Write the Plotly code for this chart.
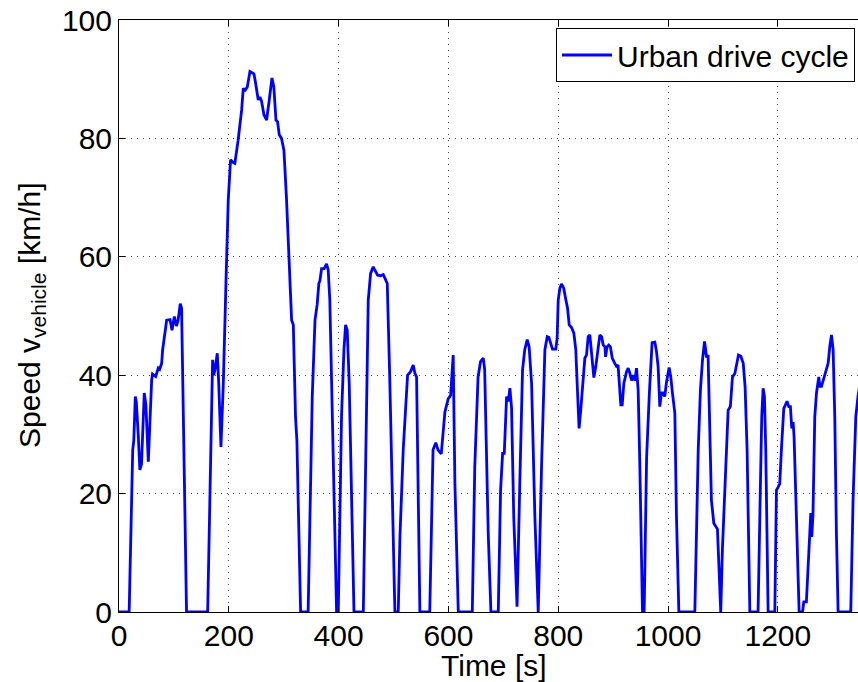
import plotly.graph_objects as go

time_s = [0, 18.5, 25, 27, 29.7, 31.5, 35, 38, 41, 46, 49, 53.4, 59.5, 61, 66.8, 71.6, 74, 77.7, 79.5,
          83.8, 86.8, 93, 96.5, 100.8, 104.6, 107.6, 111.6, 114, 123, 161.5, 170.5, 172.5, 175, 179,
          181.5, 185.7, 190, 194.8, 199, 203.2, 207, 211, 217, 223.4, 226.4, 229, 233.7, 238.5, 245.8,
          248.7, 253.6, 256.6, 259.6, 264, 268.9, 273.7, 278.6, 282, 285.9, 288.9, 291.9, 296, 300.4,
          305, 311.4, 314.4, 317.5, 321.5, 324, 330.8, 344.5, 352, 357, 361, 364, 366, 369, 373.7, 378,
          381, 384, 390, 396.3, 399.4, 405.3, 409.7, 412.7, 415.7, 419.3, 428, 445, 454, 458.3, 463,
          466, 471, 476.5, 481.3, 484.3, 488.6, 493.4, 502.5, 508.6, 511.7, 517.7, 525.6, 531, 535.9,
          539, 542, 548, 566, 572, 577, 581, 587, 593.6, 599.6, 604, 608.7, 611.8, 618, 643.5, 648,
          654, 658.5, 663.4, 666, 672.5, 677.4, 690.8, 695, 698.7, 701.7, 706, 709, 712, 715, 719, 725,
          730, 735, 739, 743.5, 747, 751.5, 757.5, 763.6, 769.6, 775.7, 780, 783, 785.6, 789.6, 795.6,
          798, 800, 803, 806, 810, 814, 817, 820, 824, 828.5, 832, 834.5, 838, 841, 845.5, 848.5,
          851.5, 854.6, 857.6, 860.6, 864.9, 868.5, 872.8, 875.8, 879, 882, 885, 886.2, 889, 892, 895,
          898.4, 903, 906, 909, 912.2, 914, 916.5, 919.5, 924.4, 927.4, 930.5, 933.5, 936.6, 939.6,
          942.6, 945.6, 948.7, 953.5, 956.5, 961, 966, 971, 976, 979, 982, 985, 988, 991, 994, 997.3,
          1002, 1005, 1008, 1012.4, 1015.4, 1019.7, 1048.8, 1055, 1059, 1062.8, 1066.5, 1070, 1073,
          1076, 1079, 1083.4, 1086.4, 1090, 1092.5, 1096, 1099, 1103.4, 1107.6, 1109.5, 1113.5, 1117.4,
          1121.7, 1124.8, 1128.3, 1132.6, 1137, 1140.4, 1144, 1149, 1164, 1168.3, 1170.7, 1173.2,
          1175.6, 1178, 1182.3, 1194.5, 1197.5, 1200.5, 1203.5, 1206.5, 1210.8, 1213.8, 1216.8, 1219.9,
          1222.9, 1225.4, 1227.8, 1229.6, 1234, 1238.8, 1244.9, 1247.3, 1252, 1255, 1258, 1260, 1261.8,
          1264, 1267.3, 1270.4, 1274.6, 1276.5, 1279.5, 1282.5, 1285.6, 1288.6, 1291.6, 1294.6, 1297.7,
          1300.7, 1303.7, 1306.7, 1309.8, 1332.8, 1337, 1342, 1346, 1352]

speed_kmh = [0, 0, 27.4, 29, 36.4, 35.5, 30, 24, 25, 37, 35, 25.4, 39.2, 40.2, 39.8, 41.2, 41, 42, 44.3,
             47.6, 49.3, 49.4, 47.6, 49.9, 48.3, 49.3, 52.1, 51.3, 0, 0, 42.6, 40, 41, 43.7,
             39, 27.9, 38.6, 55.5, 69.6, 76.4, 76, 75.8, 79.7, 84.8, 88.5, 88, 88.7, 91.3, 90.9,
             89.4, 86.5, 87, 86.3, 84, 83.1, 86.5, 90.2, 88.7, 83.1, 82.8, 80.6, 80, 78,
             70, 55.5, 49.3, 48.5, 33, 29, 0, 0, 36.4, 49.3, 52, 55.5, 56, 58, 58, 58.8,
             57.8, 52.7, 27.4, 0, 0, 33, 44.3, 48.5, 47.6, 38.7, 0, 0, 52.7, 57.2, 58.3,
             57.8, 56.9, 56.8, 57, 56.4, 55.5, 38.6, 0, 0, 12.7, 27.4, 40, 40.6, 41.7,
             40.3, 39.7, 0, 0, 27.4, 28.6, 27.4, 26.7, 33.8, 36, 36.6, 43.4, 21.8, 0, 0, 24.5,
             39.7, 42.3, 42.9, 41, 13.3, 0, 0, 20.6, 26.8, 26.8, 36.4, 35.6, 37.8, 34.5, 16, 0.9,
             21.7, 40.9, 44.3, 46, 44.8, 38.6, 16, 0, 24.5, 44.3, 46.5, 46.4, 45.6, 44.4, 44.4,
             46.2, 52.7, 54.7, 55.4, 54.7, 52.7, 51.3, 48.5, 48.1, 47.1, 44.3, 38.6, 31, 34.1, 38.6, 42.9,
             43.4, 46.5, 46.8, 44.3, 39.6, 41.5, 44.3, 46.8, 46.5, 45.1, 44.8, 43.1, 44.8, 45.1, 44.8,
             42.9, 42, 41.5, 41.7, 37.5, 35, 35, 38.6, 40.6, 41.2, 40.3, 39.1, 40, 39.1,
             41.2, 37.5, 24.5, 0, 0, 26.2, 37, 45.5, 45.6, 44, 41.4, 34.7, 37, 37, 36.4, 38.9,
             41.3, 39.7, 37, 33.6, 16, 0, 0, 27.4, 37.5, 42.6, 45.7, 43.2, 43.2,
             33, 18.9, 15, 14.5, 14, 8.2, 0, 10.5, 21.7, 29, 34.1, 34.7, 39.7,
             40.3, 42, 43.4, 43.2, 42, 38, 27.4, 0, 0, 21.7, 33, 37.8,
             36.4, 27.4, 0, 0, 20.6, 21.1, 21.7, 27.4, 34.4, 35, 35.6, 34.7,
             34.7, 31, 32.1, 29.6, 16, 0, 0, 1.7, 1.7, 7.7, 13.2, 16.7, 12.7,
             16.5, 33, 37, 39.7, 38.1, 38.1, 39.1, 40.3, 41.4, 42, 44.8, 46.8,
             44.3, 33, 13.3, 0, 0, 18.9, 33, 36.4, 40]

x_ticks = [0, 200, 400, 600, 800, 1000, 1200]
y_ticks = [0, 20, 40, 60, 80, 100]
series_name = "Urban drive cycle"

FONT = "Liberation Sans, Arial, Helvetica, sans-serif"
FS = 30

fig = go.Figure()
fig.add_trace(go.Scatter(x=time_s, y=speed_kmh, mode="lines", name=series_name,
                         line=dict(color="#0000FF", width=2.8)))

fig.update_layout(
    width=858, height=682,
    margin=dict(l=119, r=0, t=20, b=70),
    paper_bgcolor="white", plot_bgcolor="white",
    font=dict(family=FONT, size=FS, color="black"),
    showlegend=True,
    legend=dict(x=(556 - 119) / 739, y=(612 - 28) / 592, xanchor="left", yanchor="top",
                bgcolor="white", bordercolor="black", borderwidth=1,
                font=dict(family=FONT, size=FS, color="black"), itemwidth=50),
    xaxis=dict(range=[0, 1346], tickvals=x_ticks, ticks="inside", ticklen=6, tickcolor="black",
               showline=True, linecolor="black", linewidth=1, mirror="ticks",
               showgrid=True, gridcolor="#444444", gridwidth=1, griddash="1px,5px",
               zeroline=False, tickfont=dict(size=FS), fixedrange=True, ticklabelstandoff=-3),
    yaxis=dict(range=[0, 100], tickvals=y_ticks, ticks="inside", ticklen=6, tickcolor="black",
               showline=True, linecolor="black", linewidth=1, mirror=False,
               showgrid=True, gridcolor="#444444", gridwidth=1, griddash="1px,5px",
               zeroline=False, tickfont=dict(size=FS), fixedrange=True),
    annotations=[
        dict(text="Time [s]", xref="x", yref="paper", x=683, y=(612 - 665) / 592,
             xanchor="center", yanchor="middle", showarrow=False, font=dict(size=FS)),
        dict(text="Speed v<sub>vehicle</sub> [km/h]", xref="paper", yref="paper",
             x=(31 - 119) / 739, y=0.5, xanchor="center", yanchor="middle",
             textangle=-90, showarrow=False, font=dict(size=FS)),
    ],
)

fig.write_html("out.html")
